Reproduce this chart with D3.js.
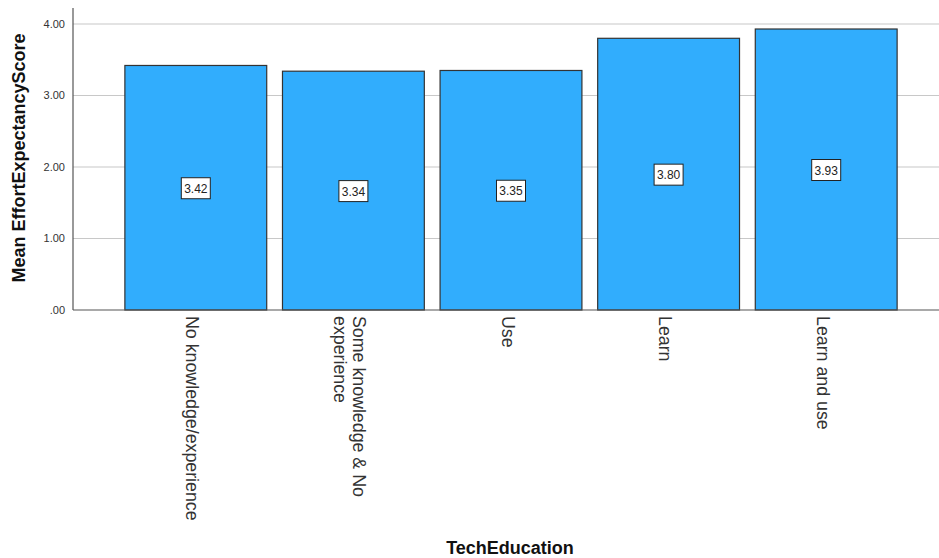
<!DOCTYPE html>
<html><head><meta charset="utf-8">
<script src="https://cdn.jsdelivr.net/npm/d3@7"></script>
<style>body{margin:0;background:#fff}svg{display:block}</style>
</head><body>
<svg id="c" width="939" height="558"></svg>
<script>
const categories = ["No knowledge/experience","Some knowledge & No experience","Use","Learn","Learn and use"];
const categoryLines = [["No knowledge/experience"],["Some knowledge & No","experience"],["Use"],["Learn"],["Learn and use"]];
const values = [3.42, 3.34, 3.35, 3.80, 3.93];
const yTicks = [0, 1, 2, 3, 4];
const yTickLabels = [".00","1.00","2.00","3.00","4.00"];

const svg = d3.select("#c");
const font = "'Liberation Sans', Arial, sans-serif";
const x0 = 73, x1 = 939, yTop = 8, yBottom = 310;
const x = d3.scaleBand().domain(categories).range([117, 905]).paddingInner(0.1).paddingOuter(0.05);
const y = d3.scaleLinear().domain([0, 4]).range([yBottom, 24]);

// gridlines
svg.append("g").selectAll("line").data(yTicks.filter(d => d > 0)).join("line")
  .attr("x1", x0).attr("x2", x1).attr("y1", d => y(d)).attr("y2", d => y(d))
  .attr("stroke", "#c8c8c8").attr("stroke-width", 1.2);

// y tick labels
svg.append("g").selectAll("text").data(yTicks).join("text")
  .attr("x", 65).attr("y", d => y(d)).attr("dy", "0.35em")
  .attr("text-anchor", "end").attr("font-family", font).attr("font-size", 11)
  .attr("fill", "#333").text((d, i) => yTickLabels[i]);

// bars
svg.append("g").selectAll("rect").data(values).join("rect")
  .attr("x", (d, i) => x(categories[i])).attr("width", x.bandwidth())
  .attr("y", d => y(d)).attr("height", d => y(0) - y(d))
  .attr("fill", "#31adfd").attr("stroke", "#333").attr("stroke-width", 1.2);

// value labels
const lab = svg.append("g").selectAll("g").data(values).join("g")
  .attr("transform", (d, i) => `translate(${x(categories[i]) + x.bandwidth()/2},${(y(d) + y(0))/2 + 1})`);
lab.append("rect").attr("x", -14.5).attr("y", -11).attr("width", 29).attr("height", 21)
  .attr("fill", "#fff").attr("stroke", "#222").attr("stroke-width", 1);
lab.append("text").attr("text-anchor", "middle").attr("dy", "0.35em")
  .attr("font-family", font).attr("font-size", 12).attr("fill", "#222")
  .text(d => d.toFixed(2));

// axes lines
svg.append("line").attr("x1", x0).attr("x2", x0).attr("y1", yTop).attr("y2", yBottom)
  .attr("stroke", "#555").attr("stroke-width", 1.2);
svg.append("line").attr("x1", x0).attr("x2", x1).attr("y1", yBottom).attr("y2", yBottom)
  .attr("stroke", "#555").attr("stroke-width", 1.2);

// x tick labels (rotated)
const lh = 19;
categories.forEach((c, i) => {
  const cx = x(c) + x.bandwidth()/2;
  const lines = categoryLines[i];
  const n = lines.length;
  lines.forEach((t, j) => {
    const bx = cx - 4 + ((n - 1)/2 - j) * lh - 5.5;
    svg.append("text").attr("transform", `translate(${bx},316) rotate(90)`)
      .attr("text-anchor", "start").attr("font-family", font).attr("font-size", 17.8)
      .attr("fill", "#333").text(t);
  });
});

// axis titles
svg.append("text").attr("transform", "translate(25,158) rotate(-90)")
  .attr("text-anchor", "middle").attr("font-family", font).attr("font-size", 18)
  .attr("font-weight", "bold").attr("fill", "#111").text("Mean EffortExpectancyScore");
svg.append("text").attr("x", 510).attr("y", 554)
  .attr("text-anchor", "middle").attr("font-family", font).attr("font-size", 18)
  .attr("font-weight", "bold").attr("fill", "#111").text("TechEducation");
</script>
</body></html>
